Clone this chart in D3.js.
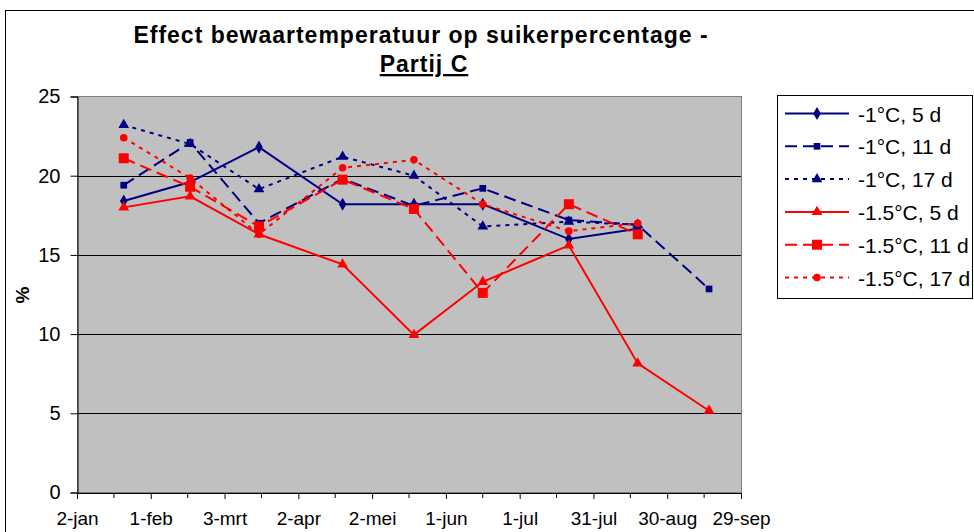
<!DOCTYPE html>
<html>
<head>
<meta charset="utf-8">
<script src="https://cdn.jsdelivr.net/npm/d3@7"></script>
<style>
	html, body { margin: 0; padding: 0; background: #fff; }
	svg { display: block; font-family: Arial, "Liberation Sans", sans-serif; }
</style>
</head>
<body>
<svg id="chart" width="974" height="532"></svg>
<script>
// measurement dates (x axis is a date axis)
var dates = ['2006-01-21', '2006-02-17', '2006-03-17', '2006-04-20', '2006-05-19',
	'2006-06-16', '2006-07-21', '2006-08-18', '2006-09-16'];

// sugar percentage per series, null = not measured
var min1_5d = [18.4, 19.6, 21.8, 18.2, 18.2, 18.2, 16.0, 16.65, null];
var min1_11d = [19.4, 22.1, 17.0, 19.8, 18.1, 19.2, 17.2, 16.9, 12.85];
var min1_17d = [23.2, 22.0, 19.15, 21.2, 20.0, 16.8, 17.1, 16.9, null];
var min15_5d = [18.0, 18.7, 16.3, 14.4, 9.95, 13.3, 15.6, 8.15, 5.16];
var min15_11d = [21.1, 19.3, 16.8, 19.75, 17.9, 12.6, 18.2, 16.3, null];
var min15_17d = [22.4, 19.85, 16.3, 20.5, 21.0, 18.2, 16.5, 17.0, null];

var seriesNames = ['-1°C, 5 d', '-1°C, 11 d', '-1°C, 17 d', '-1.5°C, 5 d', '-1.5°C, 11 d', '-1.5°C, 17 d'];

// axis ticks
var xTickDates = ['2006-01-02', '2006-02-01', '2006-03-03', '2006-04-02', '2006-05-02',
	'2006-06-01', '2006-07-01', '2006-07-31', '2006-08-30', '2006-09-29'];
var xTickLabels = ['2-jan', '1-feb', '3-mrt', '2-apr', '2-mei', '1-jun', '1-jul', '31-jul', '30-aug', '29-sep'];
var yTicks = [0, 5, 10, 15, 20, 25];

var navy = '#000080',
	red = '#ff0000';

var styles = [
	{ color: navy, dash: null, marker: 'diamond', size: 50 },
	{ color: navy, dash: '12,6', marker: 'square', size: 45 },
	{ color: navy, dash: '4,5', marker: 'triangle', size: 50 },
	{ color: red, dash: null, marker: 'triangle', size: 50 },
	{ color: red, dash: '12,6', marker: 'square', size: 100 },
	{ color: red, dash: '4,5', marker: 'circle', size: 45 }
];

var seriesValues = [min1_5d, min1_11d, min1_17d, min15_5d, min15_11d, min15_17d];

var parse = d3.utcParse('%Y-%m-%d');

var plotLeft = 77, plotRight = 741, plotTop = 96.5, plotBottom = 492.5;

var svg = d3.select('#chart');

// outer chart border
svg.append('rect')
	.attr('x', 5.5).attr('y', 10.5)
	.attr('width', 1000).attr('height', 600)
	.attr('fill', '#fff')
	.attr('stroke', '#000');

// title
var title = svg.append('text')
	.attr('text-anchor', 'middle')
	.attr('font-weight', 'bold')
	.attr('font-size', 23)
	.attr('letter-spacing', 1)
	.attr('fill', '#000');
title.append('tspan').attr('x', 421).attr('y', 43).text('Effect bewaartemperatuur op suikerpercentage -');
title.append('tspan').attr('x', 424).attr('y', 72).attr('text-decoration', 'underline').text('Partij C');

var x = d3.scaleUtc()
	.domain([parse(xTickDates[0]), parse(xTickDates[xTickDates.length - 1])])
	.range([plotLeft, plotRight]);

var y = d3.scaleLinear()
	.domain([0, 25])
	.range([plotBottom, plotTop]);

// plot area
svg.append('rect')
	.attr('x', plotLeft + 0.5).attr('y', plotTop)
	.attr('width', plotRight - plotLeft).attr('height', plotBottom - plotTop)
	.attr('fill', '#c0c0c0')
	.attr('stroke', '#808080');

// gridlines
svg.append('g')
	.selectAll('line')
	.data(yTicks.filter(function (d) { return d > 0 && d < 25; }))
	.enter().append('line')
		.attr('x1', plotLeft).attr('x2', plotRight)
		.attr('y1', function (d) { return Math.round(y(d)) + 0.5; })
		.attr('y2', function (d) { return Math.round(y(d)) + 0.5; })
		.attr('stroke', '#000');

// y axis
var yAxis = svg.append('g')
	.attr('transform', 'translate(' + (plotLeft + 0.5) + ',0)')
	.call(d3.axisLeft(y).tickValues(yTicks).tickSize(7).tickPadding(10));
yAxis.selectAll('text').attr('font-size', 20).attr('fill', '#000').attr('font-family', 'Arial, "Liberation Sans", sans-serif');

// x axis with minor ticks in between
var xDates = xTickDates.map(parse);
var minorDates = [];
for (var i = 0; i < xDates.length - 1; i++) {
	minorDates.push(new Date((xDates[i].getTime() + xDates[i + 1].getTime()) / 2));
}

var xAxis = svg.append('g')
	.attr('transform', 'translate(0,' + (plotBottom + 0.5) + ')')
	.call(d3.axisBottom(x)
		.tickValues(xDates)
		.tickSize(6)
		.tickPadding(13)
		.tickFormat(function (d, i) { return xTickLabels[i]; }));
xAxis.selectAll('text').attr('font-size', 19).attr('fill', '#000').attr('font-family', 'Arial, "Liberation Sans", sans-serif');

xAxis.selectAll('.minor')
	.data(minorDates)
	.enter().append('line')
		.attr('class', 'minor')
		.attr('x1', function (d) { return x(d); })
		.attr('x2', function (d) { return x(d); })
		.attr('y1', 0).attr('y2', 5)
		.attr('stroke', '#000');

svg.selectAll('.domain').attr('stroke', '#000');

// y axis title
svg.append('text')
	.attr('transform', 'translate(29,295) rotate(-90)')
	.attr('text-anchor', 'middle')
	.attr('font-weight', 'bold')
	.attr('font-size', 19)
	.text('%');

// series
var symbolTypes = {
	diamond: d3.symbolDiamond,
	square: d3.symbolSquare,
	triangle: d3.symbolTriangle,
	circle: d3.symbolCircle
};

var line = d3.line()
	.x(function (d) { return x(d.date); })
	.y(function (d) { return y(d.v); });

var seriesData = seriesValues.map(function (vals) {
	return vals.map(function (v, j) { return { date: parse(dates[j]), v: v }; })
		.filter(function (d) { return d.v !== null; });
});

var series = svg.append('g')
	.selectAll('g')
	.data(seriesData).enter()
	.append('g');

series.append('path')
	.attr('d', line)
	.attr('fill', 'none')
	.attr('stroke', function (d, s) { return styles[s].color; })
	.attr('stroke-width', 2)
	.attr('stroke-dasharray', function (d, s) { return styles[s].dash; });

series.each(function (d, s) {
	var st = styles[s];
	d3.select(this).selectAll('.marker')
		.data(d).enter()
		.append('path')
			.attr('class', 'marker')
			.attr('transform', function (p) {
				return 'translate(' + x(p.date) + ',' + y(p.v) + ')';
			})
			.attr('d', d3.symbol().type(symbolTypes[st.marker]).size(st.size))
			.attr('fill', st.color);
});

// legend
var legend = svg.append('g');
legend.append('rect')
	.attr('x', 777.5).attr('y', 95.5)
	.attr('width', 195).attr('height', 203)
	.attr('fill', '#fff')
	.attr('stroke', '#000');

var rows = legend.selectAll('.row')
	.data(seriesNames).enter()
	.append('g')
		.attr('class', 'row')
		.attr('transform', function (d, i) { return 'translate(0,' + (113.5 + i * 32.8) + ')'; });

rows.append('line')
	.attr('x1', 785).attr('x2', 849)
	.attr('y1', 0).attr('y2', 0)
	.attr('stroke', function (d, i) { return styles[i].color; })
	.attr('stroke-width', 2)
	.attr('stroke-dasharray', function (d, i) { return styles[i].dash; });

rows.append('path')
	.attr('transform', 'translate(817,0)')
	.attr('d', function (d, i) { return d3.symbol().type(symbolTypes[styles[i].marker]).size(styles[i].size)(); })
	.attr('fill', function (d, i) { return styles[i].color; });

rows.append('text')
	.attr('x', 858)
	.attr('y', 8)
	.attr('font-size', 21)
	.attr('fill', '#000')
	.text(function (d) { return d; });
</script>
</body>
</html>
